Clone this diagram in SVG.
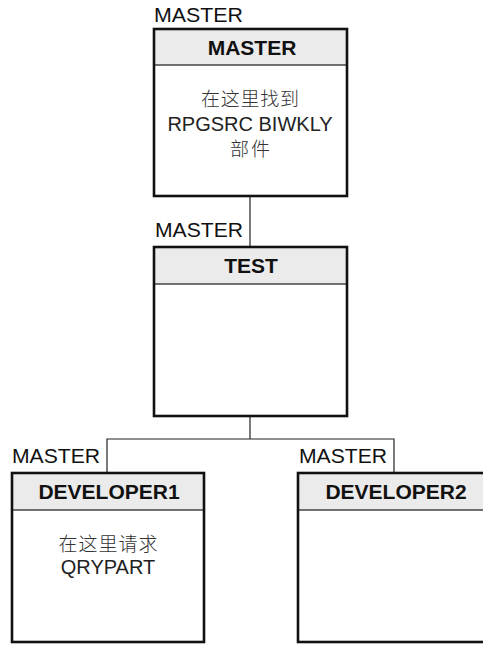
<svg xmlns="http://www.w3.org/2000/svg" width="483" height="645" viewBox="0 0 483 645">
  <style>
    .box { fill: none; stroke: #111111; stroke-width: 2.6; }
    .hdr { fill: #ebebeb; stroke: none; }
    .div { stroke: #444444; stroke-width: 1.4; }
    .conn { stroke: #222222; stroke-width: 1.2; fill: none; }
    .lbl { font-family: "Liberation Sans", Arial, sans-serif; font-size: 21px; fill: #111111; }
    .ttl { font-family: "Liberation Sans", Arial, sans-serif; font-size: 21px; font-weight: bold; fill: #111111; text-anchor: middle; }
    .body { font-family: "Liberation Sans", Arial, "Noto Sans CJK SC", sans-serif; font-size: 20px; fill: #222222; text-anchor: middle; }
    .cjk { font-family: "Noto Sans CJK SC", sans-serif; font-size: 19px; font-weight: 300; fill: #333333; }
  </style>
  <rect x="0" y="0" width="483" height="645" fill="#ffffff"/>

  <g id="connectors">
    <line class="conn" x1="250" y1="196" x2="250" y2="247"/>
    <polyline class="conn" points="250,416 250,439"/>
    <polyline class="conn" points="107,473 107,439 394,439 394,473"/>
  </g>

  <g id="labels">
    <text class="lbl" x="154" y="22" textLength="89" lengthAdjust="spacingAndGlyphs">MASTER</text>
    <text class="lbl" x="155" y="237" textLength="88" lengthAdjust="spacingAndGlyphs">MASTER</text>
    <text class="lbl" x="12" y="463" textLength="88" lengthAdjust="spacingAndGlyphs">MASTER</text>
    <text class="lbl" x="299" y="463" textLength="88" lengthAdjust="spacingAndGlyphs">MASTER</text>
  </g>

  <g id="node-master">
    <rect class="hdr" x="154" y="29" width="193" height="36"/>
    <line class="div" x1="154" y1="65" x2="347" y2="65"/>
    <rect class="box" x="154" y="29" width="193" height="167"/>
    <text class="ttl" x="252" y="55">MASTER</text>
    <text class="body cjk" x="250" y="106" textLength="98" lengthAdjust="spacing">在这里找到</text>
    <text class="body" x="250" y="131">RPGSRC BIWKLY</text>
    <text class="body cjk" x="250" y="156" textLength="40" lengthAdjust="spacing">部件</text>
  </g>

  <g id="node-test">
    <rect class="hdr" x="154" y="247" width="193" height="37"/>
    <line class="div" x1="154" y1="284" x2="347" y2="284"/>
    <rect class="box" x="154" y="247" width="193" height="169"/>
    <text class="ttl" x="251" y="273">TEST</text>
  </g>

  <g id="node-developer1">
    <rect class="hdr" x="12" y="473" width="192" height="37"/>
    <line class="div" x1="12" y1="510" x2="204" y2="510"/>
    <rect class="box" x="12" y="473" width="192" height="169"/>
    <text class="ttl" x="109" y="499">DEVELOPER1</text>
    <text class="body cjk" x="108" y="551" textLength="99" lengthAdjust="spacing">在这里请求</text>
    <text class="body" x="108" y="574">QRYPART</text>
  </g>

  <g id="node-developer2">
    <rect class="hdr" x="298" y="473" width="193" height="37"/>
    <line class="div" x1="298" y1="510" x2="491" y2="510"/>
    <rect class="box" x="298" y="473" width="193" height="169"/>
    <text class="ttl" x="396" y="499">DEVELOPER2</text>
  </g>
</svg>
